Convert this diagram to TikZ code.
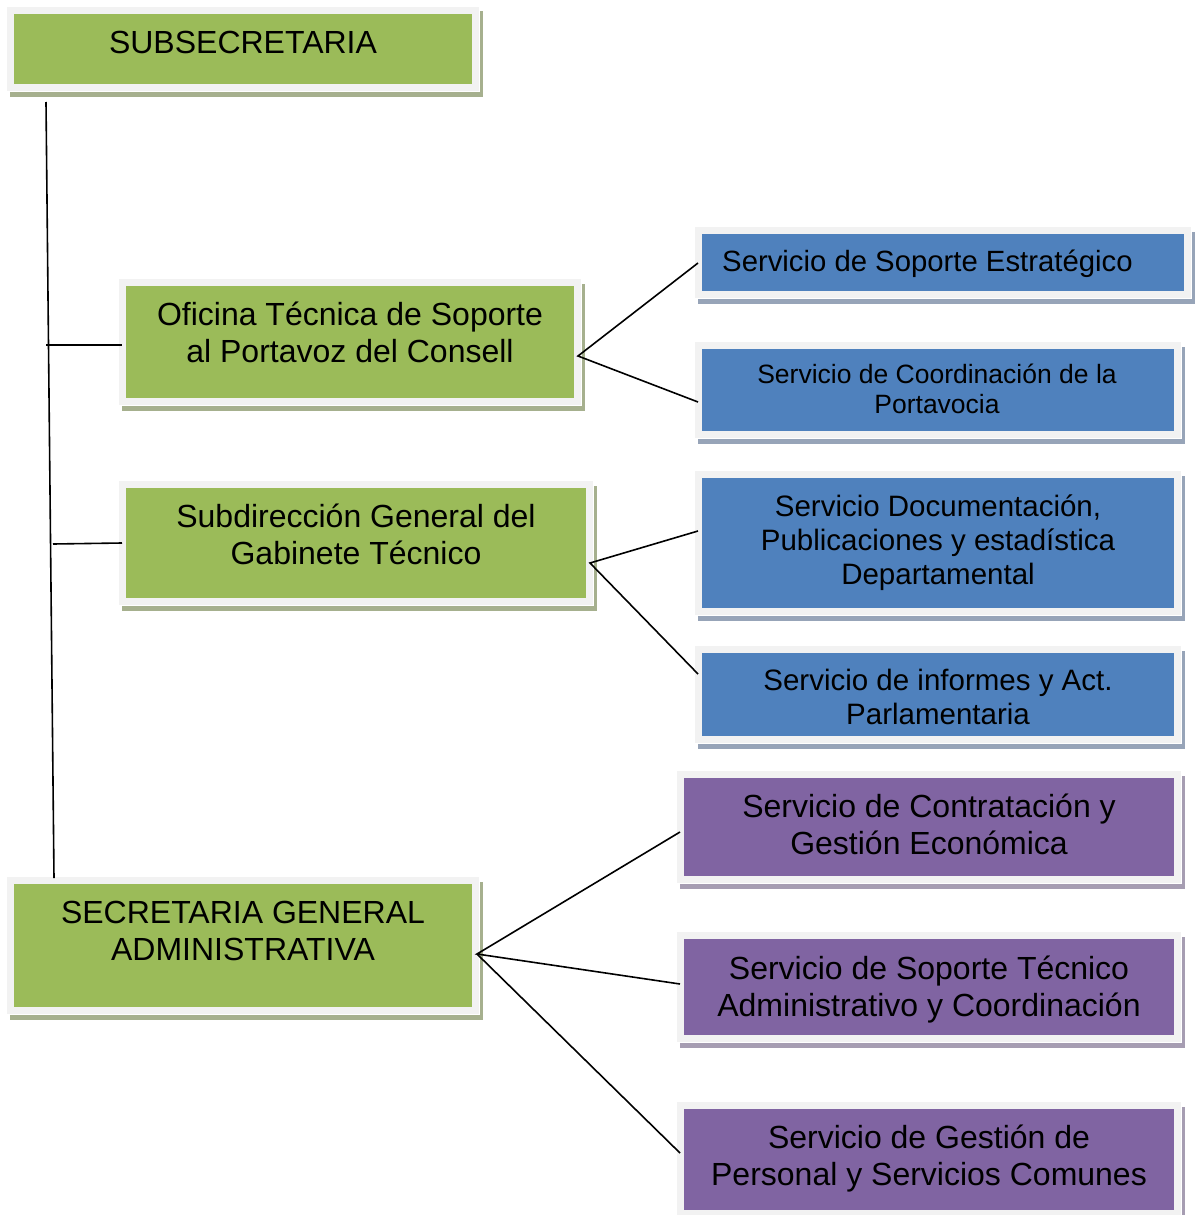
\documentclass[tikz,border=0pt]{standalone}
\usepackage{fontspec}
\setmainfont{Liberation Sans}
\usetikzlibrary{shadows,fit}

\definecolor{framegrey}{HTML}{F2F2F2}
\definecolor{cgreen}{HTML}{9BBB59}
\definecolor{cgreenshade}{HTML}{A6B08E}
\definecolor{cblue}{HTML}{4F81BD}
\definecolor{cblueshade}{HTML}{97A4B8}
\definecolor{cpurple}{HTML}{8064A2}
\definecolor{cpurpleshade}{HTML}{A69DB2}

\tikzset{
  orgcard/.style={rectangle, fill=framegrey, draw=white, line width=0.8pt,
    inner sep=7.5pt,
    general shadow={fill=#1shade, shadow xshift=3.5pt, shadow yshift=-5pt},
    path picture={\fill[#1]
      ([xshift=7.5pt,yshift=-7.5pt]path picture bounding box.north west)
      rectangle
      ([xshift=-7.5pt,yshift=7.5pt]path picture bounding box.south east);}},
  % labels are placed by the baseline of their last line
  lbl/.style={anchor=base, align=center, inner sep=0pt, text=black},
  fsG/.style={font={\fontsize{32pt}{37pt}\selectfont}},
  fsP/.style={font={\fontsize{32pt}{37pt}\selectfont}},
  fsBa/.style={font={\fontsize{29.3pt}{33pt}\selectfont}},
  fsBb/.style={font={\fontsize{26.5pt}{30pt}\selectfont}},
  fsBc/.style={font={\fontsize{29.5pt}{34pt}\selectfont}},
  link/.style={draw=black, line width=1.6pt}
}

\begin{document}
\begin{tikzpicture}[x=1pt, y=-1pt]
\useasboundingbox (0,0) rectangle (1194,1215);

% --- green units (left column)
\node[orgcard=cgreen, fit={(14,14)(472,84)}] (sub) {};
\node[orgcard=cgreen, fit={(126,286)(574,398)}] (ofi) {};
\node[orgcard=cgreen, fit={(126,488)(586,598)}] (gab) {};
\node[orgcard=cgreen, fit={(14,884)(472,1007)}] (sga) {};

% --- blue services
\node[orgcard=cblue, fit={(702,234)(1184,291)}] (sse) {};
\node[orgcard=cblue, fit={(702,349)(1174,431)}] (scp) {};
\node[orgcard=cblue, fit={(702,478)(1174,608)}] (sdp) {};
\node[orgcard=cblue, fit={(702,653)(1174,736)}] (sia) {};

% --- purple services
\node[orgcard=cpurple, fit={(684,778)(1174,876)}] (scg) {};
\node[orgcard=cpurple, fit={(684,939)(1174,1035)}] (sst) {};
\node[orgcard=cpurple, fit={(684,1109)(1174,1210)}] (sgp) {};

% --- labels
\node[lbl, fsG] (sub-t) at (243,54) {SUBSECRETARIA};
\node[lbl, fsG] (ofi-t) at (350,362) {Oficina Técnica de Soporte\\al Portavoz del Consell};
\node[lbl, fsG] (gab-t) at (356,564) {Subdirección General del\\Gabinete Técnico};
\node[lbl, fsG] (sga-t) at (243,960) {SECRETARIA GENERAL\\ADMINISTRATIVA};

\node[lbl, fsBa, anchor=base west] (sse-t) at (722,271) {Servicio de Soporte Estratégico};
\node[lbl, fsBb] (scp-t) at (937,413) {Servicio de Coordinación de la\\Portavocia};
\node[lbl, fsBc] (sdp-t) at (938,584) {Servicio Documentación,\\Publicaciones y estadística\\Departamental};
\node[lbl, fsBc] (sia-t) at (938,724) {Servicio de informes y Act.\\Parlamentaria};

\node[lbl, fsP] (scg-t) at (929,854) {Servicio de Contratación y\\Gestión Económica};
\node[lbl, fsP] (sst-t) at (929,1016) {Servicio de Soporte Técnico\\Administrativo y Coordinación};
\node[lbl, fsP] (sgp-t) at (929,1185) {Servicio de Gestión de\\Personal y Servicios Comunes};

% --- connector end points
\coordinate (trunk-top) at (46,102);
\coordinate (trunk-bot) at (54,878);
\coordinate (trunk-ofi) at (46,345);
\coordinate (trunk-gab) at (53,544);
\coordinate (ofi-in) at (122,345);
\coordinate (gab-in) at (122,543);
\coordinate (ofi-out) at (578,356);
\coordinate (gab-out) at (590,563);
\coordinate (sga-out) at (477,954);
\coordinate (sse-in) at (698,263);
\coordinate (scp-in) at (698,402);
\coordinate (sdp-in) at (698,531);
\coordinate (sia-in) at (698,674);
\coordinate (scg-in) at (680,832);
\coordinate (sst-in) at (680,984);
\coordinate (sgp-in) at (680,1153);

% --- connectors
\draw[link] (trunk-top) -- (trunk-bot);
\draw[link] (trunk-ofi) -- (ofi-in);
\draw[link] (trunk-gab) -- (gab-in);
\draw[link] (sse-in) -- (ofi-out) -- (scp-in);
\draw[link] (sdp-in) -- (gab-out) -- (sia-in);
\draw[link] (scg-in) -- (sga-out) -- (sst-in);
\draw[link] (sga-out) -- (sgp-in);
\end{tikzpicture}
\end{document}
